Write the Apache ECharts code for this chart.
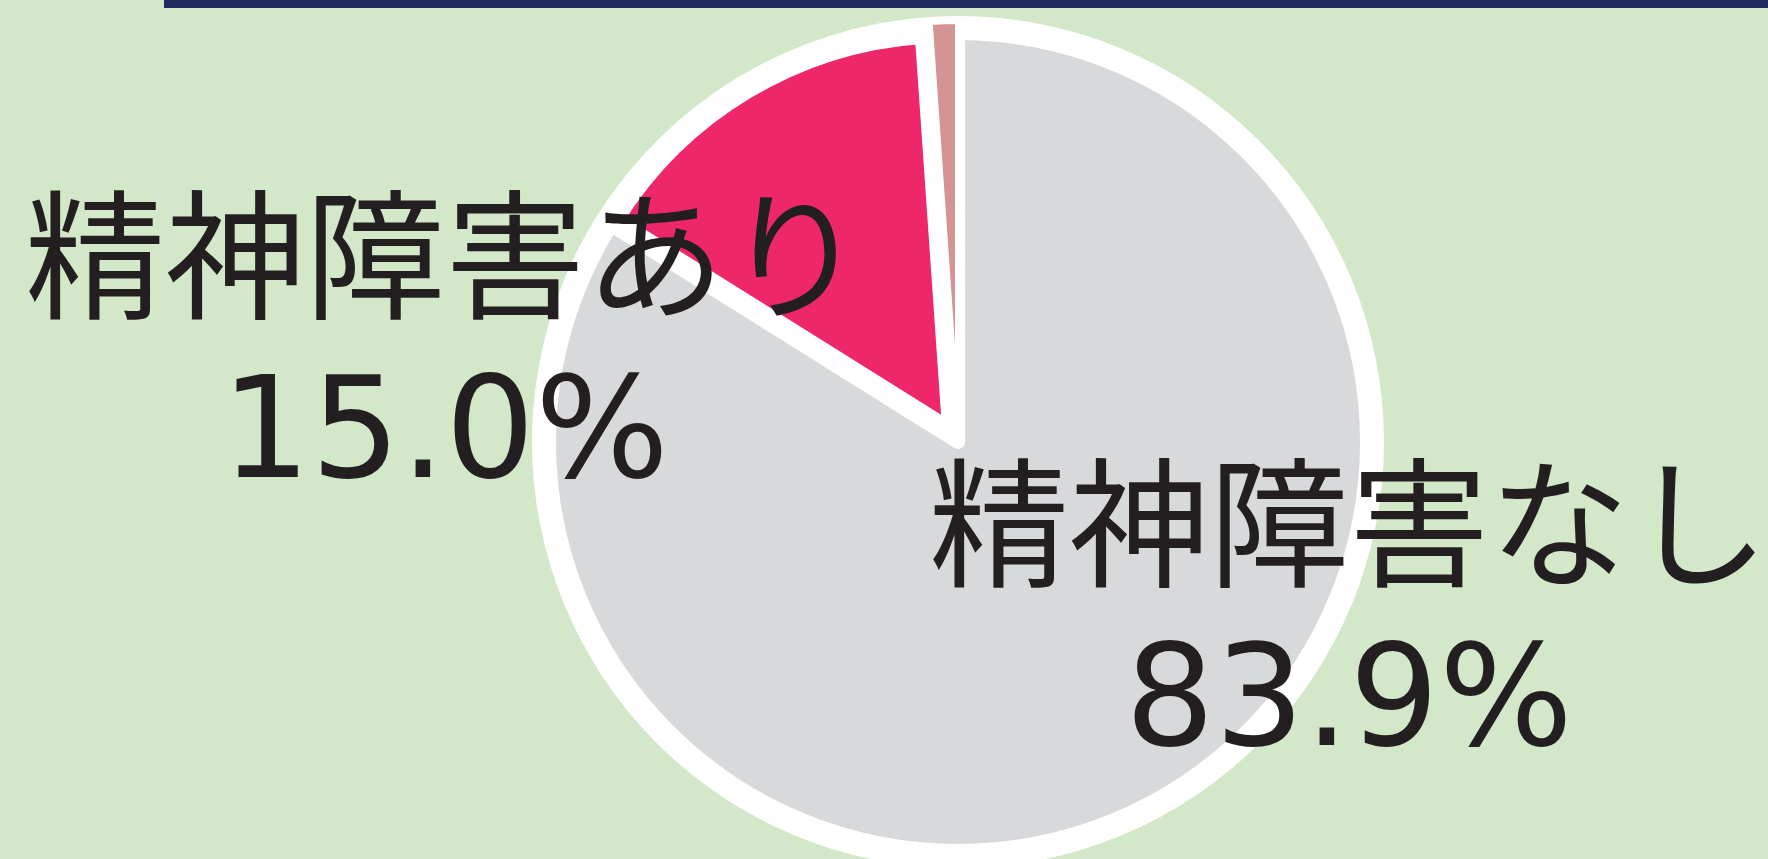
<!DOCTYPE html>
<html lang="ja">
<head>
<meta charset="UTF-8">
<title>精神障害の有無</title>
<script src="https://cdn.jsdelivr.net/npm/echarts@6/dist/echarts.min.js"></script>
<style>
  html, body { margin: 0; padding: 0; background: #d2e8c9; }
  #chart { width: 1768px; height: 859px; }
</style>
</head>
<body>
<div id="chart"></div>
<script>
// データ
var categories = ['精神障害なし', '精神障害あり', '不明'];
var values = [83.9, 15.0, 1.1];
var colors = ['#d8d9db', '#ee2868', '#d49493'];
var showLabel = [true, true, false];

var chart = echarts.init(document.getElementById('chart'));

// ラベルの位置（中心）
var labelPos = [[1349, 616], [445, 348]];
var cx = 958, cy = 442;

// 1つのスライスだけを描くパイ（切り離しは中心をずらして表現）
function slice(idx, radius, center, border) {
  var data = [];
  for (var i = 0; i < values.length; i++) {
    var on = i === idx;
    data.push({
      name: categories[i],
      value: values[i],
      itemStyle: on
        ? { color: colors[i], borderColor: '#fff', borderWidth: border }
        : { color: 'rgba(0,0,0,0)', borderWidth: 0 },
      label: { show: on && showLabel[i] }
    });
  }
  return {
    type: 'pie',
    center: center,
    radius: [0, radius],
    startAngle: 90,
    clockwise: true,
    silent: true,
    animation: false,
    label: {
      position: 'inside',
      formatter: function (p) {
        return '{a|' + p.name + '}\n{b|' + p.value.toFixed(1) + '%}';
      },
      rich: {
        a: { fontFamily: 'Noto Sans CJK JP', fontSize: 140, lineHeight: 184, color: '#231f20', align: 'center' },
        b: { fontFamily: 'DejaVu Sans', fontSize: 141, lineHeight: 186, color: '#231f20', align: 'center' }
      }
    },
    labelLine: { show: false },
    labelLayout: function (params) {
      var p = labelPos[params.dataIndex];
      if (!p) return {};
      return { x: p[0], y: p[1], align: 'center', verticalAlign: 'middle' };
    },
    data: data
  };
}

// 白い下地
var back = {
  type: 'pie',
  center: [cx, cy],
  radius: [0, 426],
  startAngle: 90,
  silent: true,
  animation: false,
  label: { show: false },
  labelLine: { show: false },
  itemStyle: { color: '#fff' },
  data: values.map(function (v, i) { return { name: categories[i], value: v }; })
};

var option = {
  backgroundColor: '#d2e8c9',
  graphic: [{
    type: 'rect',
    shape: { x: 164, y: 0, width: 1604, height: 8 },
    style: { fill: '#1f2b5e' }
  }],
  series: [
    back,
    slice(0, 409, [cx, cy], 14),
    slice(1, 392, [949, 428], 14),
    slice(2, 410, [958, 431], 6)
  ]
};
chart.setOption(option);
</script>
</body>
</html>
